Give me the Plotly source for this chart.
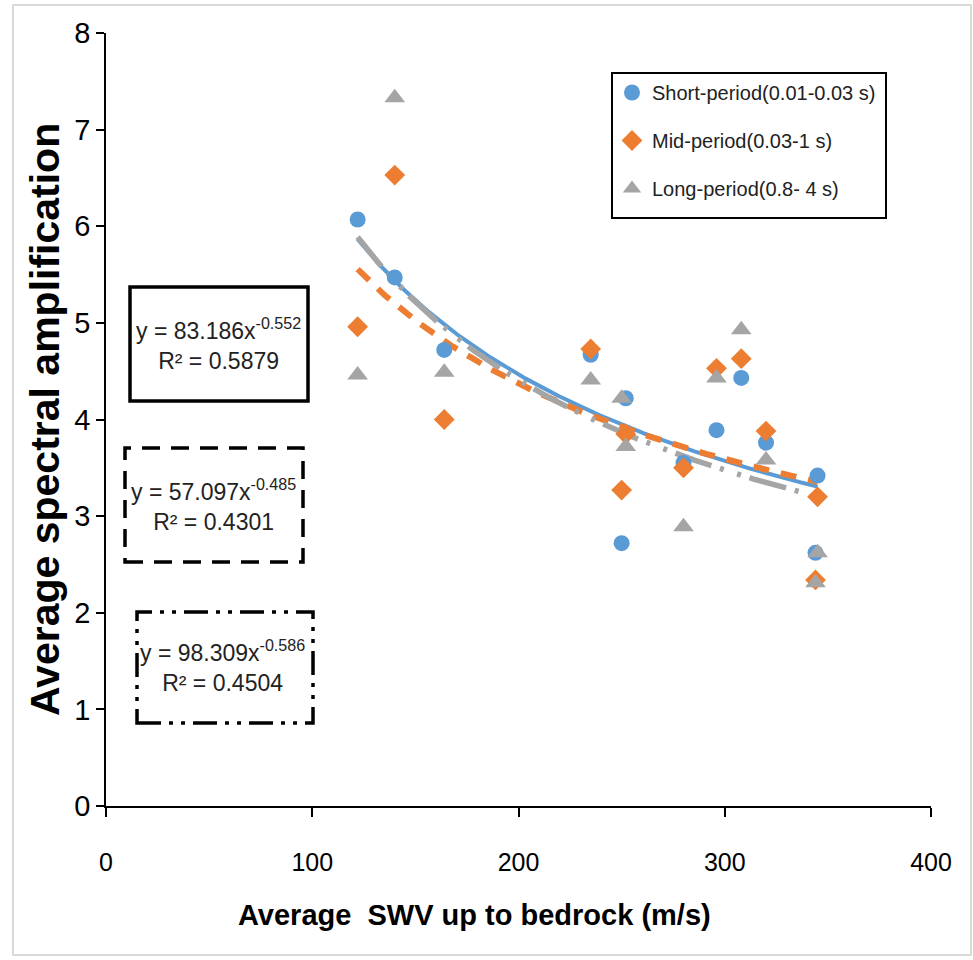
import numpy as np
import plotly.graph_objects as go

# ---- data ----
swv = [122, 140, 164, 235, 250, 252, 280, 296, 308, 320, 345, 344]
amp_short = [6.07, 5.47, 4.72, 4.67, 2.72, 4.22, 3.55, 3.89, 4.43, 3.76, 3.42, 2.62]
amp_mid = [4.96, 6.53, 4.00, 4.73, 3.27, 3.85, 3.50, 4.53, 4.63, 3.88, 3.20, 2.34]
amp_long = [4.46, 7.33, 4.49, 4.41, 4.22, 3.72, 2.89, 4.43, 4.93, 3.58, 2.62, 2.31]

series_names = ["Short-period(0.01-0.03 s)", "Mid-period(0.03-1 s)", "Long-period(0.8- 4 s)"]
fit_a = [83.186, 57.097, 98.309]
fit_b = [-0.552, -0.485, -0.586]
fit_r2 = ["0.5879", "0.4301", "0.4504"]

x_ticks = [0, 100, 200, 300, 400]
y_ticks = [0, 1, 2, 3, 4, 5, 6, 7, 8]

colors = ["#5B9BD5", "#ED7D31", "#A5A5A5"]
symbols = ["circle", "diamond", "triangle-up"]
msizes = [16, 16, 18]

ARIAL = "Liberation Sans, Arial, sans-serif"

fig = go.Figure()

# power trend lines (from the fitted equations shown on the chart)
xs = np.linspace(min(swv), max(swv), 300)
line_styles = [
    dict(color=colors[0], width=4, dash="solid"),
    dict(color=colors[1], width=6, dash="16px,12px"),
    dict(color=colors[2], width=5.5, dash="38px,9px,4px,14px,4px,9px"),
]
for i in [0, 1, 2]:
    fig.add_trace(go.Scatter(
        x=xs, y=fit_a[i] * xs ** fit_b[i], mode="lines",
        line=line_styles[i], showlegend=False, hoverinfo="skip"))

for i, amp in enumerate([amp_short, amp_mid, amp_long]):
    fig.add_trace(go.Scatter(
        x=swv, y=amp, mode="markers", name=series_names[i],
        legendgroup="g%d" % i,
        marker=dict(symbol=symbols[i], size=msizes[i], color=colors[i],
                    line=dict(width=0))))

L, R, T, B = 106, 42, 33, 154
W, H = 973, 960
pw, ph = W - L - R, H - T - B


def px(xp):
    return (xp - L) / pw


def py(yp):
    return (H - B - yp) / ph


shapes = [
    # outer light frame
    dict(type="rect", xref="paper", yref="paper", x0=px(13), x1=px(971), y0=py(955), y1=py(5),
         line=dict(color="#d9d9d9", width=2), layer="below"),
    # legend frame
    dict(type="rect", xref="paper", yref="paper", x0=px(612), x1=px(886), y0=py(218), y1=py(73),
         line=dict(color="black", width=2)),
    # equation boxes
    dict(type="rect", xref="paper", yref="paper", x0=px(130), x1=px(308), y0=py(401), y1=py(287),
         line=dict(color="black", width=3.5)),
    dict(type="rect", xref="paper", yref="paper", x0=px(125), x1=px(303), y0=py(562), y1=py(448),
         line=dict(color="black", width=3.5, dash="18px,11px")),
    dict(type="rect", xref="paper", yref="paper", x0=px(137), x1=px(313), y0=py(723), y1=py(612),
         line=dict(color="black", width=3.5, dash="24px,8px,4px,8px,4px,8px")),
]

eq_pos = [(218, 344), (213, 505), (222, 666)]
annotations = []
for i in range(3):
    annotations.append(dict(
        xref="paper", yref="paper", x=px(eq_pos[i][0]), y=py(eq_pos[i][1]),
        xanchor="center", yanchor="middle", showarrow=False, align="center",
        text="y = %.3fx<sup>%.3f</sup><br>R² = %s" % (fit_a[i], fit_b[i], fit_r2[i]),
        font=dict(family=ARIAL, size=23, color="#222")))

annotations.append(dict(
    xref="paper", yref="paper", x=px(474), y=py(915), xanchor="center", yanchor="middle",
    showarrow=False, text="<b>Average\u00a0 SWV up to bedrock (m/s)</b>",
    font=dict(family=ARIAL, size=29, color="black")))
annotations.append(dict(
    xref="paper", yref="paper", x=px(45), y=py(420), xanchor="center", yanchor="middle",
    showarrow=False, textangle=-90, text="<b>Average spectral amplification</b>",
    font=dict(family=ARIAL, size=41, color="black")))

fig.update_layout(
    width=W, height=H,
    margin=dict(l=L, r=R, t=T, b=B),
    paper_bgcolor="white", plot_bgcolor="white",
    showlegend=True,
    legend=dict(x=px(612), y=py(73), xanchor="left", yanchor="top",
                bgcolor="rgba(0,0,0,0)", borderwidth=0,
                tracegroupgap=19, itemwidth=30,
                font=dict(family=ARIAL, size=20, color="#222")),
    shapes=shapes, annotations=annotations,
    xaxis=dict(range=[0, 400], tickvals=x_ticks, showgrid=False, zeroline=False,
               showline=True, linecolor="black", linewidth=1.5,
               ticks="outside", ticklen=9, tickcolor="black", tickwidth=1.5,
               ticklabelstandoff=24,
               tickfont=dict(family=ARIAL, size=25, color="black")),
    yaxis=dict(range=[0, 8], tickvals=y_ticks, showgrid=False, zeroline=False,
               showline=True, linecolor="black", linewidth=1.5,
               ticks="outside", ticklen=8, tickcolor="black", tickwidth=1.5,
               tickfont=dict(family=ARIAL, size=29, color="black")),
)

fig.write_html("out.html")
